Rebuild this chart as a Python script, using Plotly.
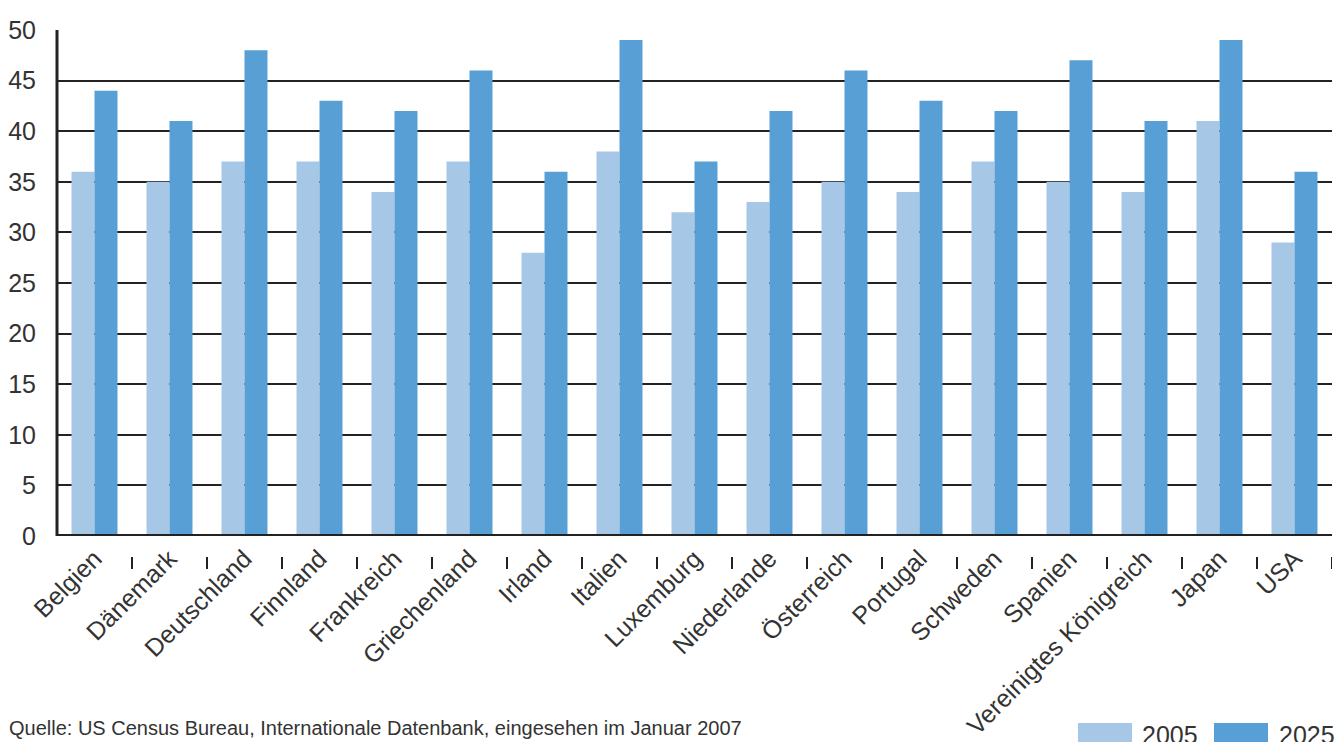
import plotly.graph_objects as go

categories = ["Belgien", "Dänemark", "Deutschland", "Finnland", "Frankreich", "Griechenland",
              "Irland", "Italien", "Luxemburg", "Niederlande", "Österreich", "Portugal",
              "Schweden", "Spanien", "Vereinigtes Königreich", "Japan", "USA"]
values_2005 = [36, 35, 37, 37, 34, 37, 28, 38, 32, 33, 35, 34, 37, 35, 34, 41, 29]
values_2025 = [44, 41, 48, 43, 42, 46, 36, 49, 37, 42, 46, 43, 42, 47, 41, 49, 36]
series_names = ["2005", "2025"]
y_ticks = [0, 5, 10, 15, 20, 25, 30, 35, 40, 45, 50]
source_text = "Quelle: US Census Bureau, Internationale Datenbank, eingesehen im Januar 2007"

C_LIGHT = "#a7c7e7"
C_DARK = "#589fd6"
TXT = "#333333"
FONT = "Liberation Sans, Arial, sans-serif"

W, H = 1335, 742
L, R, T, B = 57, 3, 30, 206
pw, ph = W - L - R, H - T - B

def px_x(p):
    return (p - L) / pw

def px_y(p):
    return (H - B - p) / ph

fig = go.Figure()
fig.add_trace(go.Bar(x=categories, y=values_2005, name=series_names[0],
                     marker=dict(color=C_LIGHT, line=dict(width=0))))
fig.add_trace(go.Bar(x=categories, y=values_2025, name=series_names[1],
                     marker=dict(color=C_DARK, line=dict(width=0))))

shapes = []
# tick marks at category boundaries, detached from axis
for i in range(len(categories)):
    shapes.append(dict(type="line", xref="x", yref="paper",
                       x0=i + 0.5, x1=i + 0.5, y0=px_y(557), y1=px_y(569),
                       line=dict(color="#222222", width=2)))
# bottom axis line
shapes.append(dict(type="line", xref="paper", yref="y", x0=0, x1=1, y0=0, y1=0,
                   line=dict(color="#222222", width=4)))
# left axis line
shapes.append(dict(type="line", xref="paper", yref="paper", x0=0, x1=0, y0=0, y1=1,
                   line=dict(color="#222222", width=3)))

annotations = [dict(text=source_text, xref="paper", yref="paper",
                    x=px_x(7), y=px_y(715), xanchor="left", yanchor="top",
                    showarrow=False, font=dict(family=FONT, size=20, color=TXT))]

# legend (bottom right, partly cut off as in the original)
leg = [(series_names[0], C_LIGHT, 1078, 1132, 1140), (series_names[1], C_DARK, 1214, 1268, 1277)]
for name, col, x0, x1, xt in leg:
    shapes.append(dict(type="rect", xref="paper", yref="paper",
                       x0=px_x(x0), x1=px_x(x1), y0=px_y(760), y1=px_y(723),
                       line=dict(width=0), fillcolor=col))
    annotations.append(dict(text=name, xref="paper", yref="paper",
                            x=px_x(xt), y=px_y(719), xanchor="left", yanchor="top",
                            showarrow=False, font=dict(family=FONT, size=25, color=TXT)))

fig.update_layout(
    width=W, height=H,
    margin=dict(l=L, r=R, t=T, b=B, pad=0),
    paper_bgcolor="white", plot_bgcolor="white",
    barmode="group", bargap=0.387, bargroupgap=0,
    showlegend=False,
    font=dict(family=FONT, size=25, color=TXT),
    shapes=shapes, annotations=annotations,
    xaxis=dict(type="category", tickangle=-45, showgrid=False, showline=False,
               ticks="", tickfont=dict(size=25, color=TXT), automargin=False,
               ticklabelstandoff=2,
               range=[-0.5, len(categories) - 0.5]),
    yaxis=dict(range=[0, 50], tickvals=y_ticks, showgrid=True, gridcolor="#222222",
               gridwidth=2, zeroline=False, showline=False, ticks="",
               tickfont=dict(size=25, color=TXT), ticklabelstandoff=20, automargin=False),
)

fig.write_html("out.html")
